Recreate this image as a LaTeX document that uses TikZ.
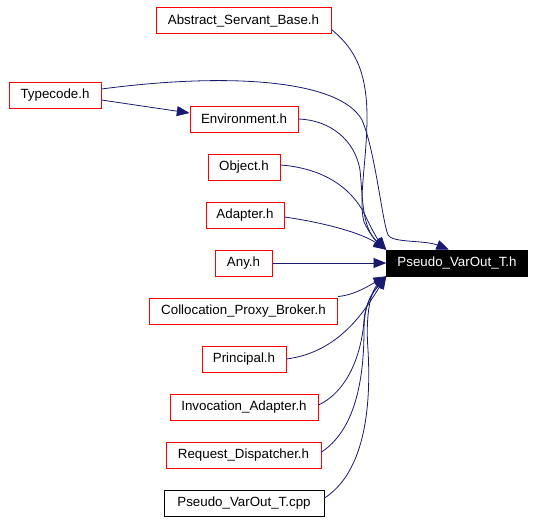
\documentclass[tikz,border=0pt]{standalone}
\usepackage{fontspec}
\setmainfont{Liberation Sans}
\usetikzlibrary{arrows.meta,calc}
\definecolor{edgeblue}{RGB}{25,25,112}
\begin{document}
\begin{tikzpicture}[x=0.75pt,y=-0.75pt,
  every node/.style={font=\fontsize{10pt}{12pt}\selectfont},
  filebox/.style={draw=red,line width=0.75pt,minimum height=19.5pt,inner sep=0pt,anchor=center},
  plainbox/.style={draw=black,line width=0.75pt,minimum height=19.5pt,inner sep=0pt,anchor=center},
  mainbox/.style={fill=black,draw=black,text=white,minimum height=19.5pt,inner sep=0pt,anchor=center},
  dep/.style={draw=edgeblue,line width=0.6pt,-{Triangle[length=9.5pt,width=7.5pt]}}]
\useasboundingbox (0,0) rectangle (538,522);
\node[filebox,minimum width=131.25pt] (asb) at (243.5,20.5) {Abstract\_Servant\_Base.h};
\node[filebox,minimum width=69pt] (tc) at (55,95) {Typecode.h};
\node[filebox,minimum width=81pt] (env) at (244,119) {Environment.h};
\node[filebox,minimum width=54pt] (obj) at (244,167) {Object.h};
\node[filebox,minimum width=58.5pt] (adp) at (245,215) {Adapter.h};
\node[filebox,minimum width=42.75pt] (any) at (243.5,263) {Any.h};
\node[mainbox,minimum width=105.75pt] (t) at (457,263) {Pseudo\_VarOut\_T.h};
\node[filebox,minimum width=141pt] (cpb) at (243.5,311) {Collocation\_Proxy\_Broker.h};
\node[filebox,minimum width=63pt] (pr) at (244,359) {Principal.h};
\node[filebox,minimum width=111pt] (inv) at (244,407) {Invocation\_Adapter.h};
\node[filebox,minimum width=116.25pt] (req) at (243.5,455) {Request\_Dispatcher.h};
\node[plainbox,minimum width=120pt] (cpp) at (244,503) {Pseudo\_VarOut\_T.cpp};
% edges
\draw[dep] ($(tc.east)+(0,5)$) -- ($(env.west)+(0,-6)$);
\draw[dep] ($(tc.east)+(0,-6)$) .. controls (230,72) and (340,80) .. (362,120)
  .. controls (375,150) and (382,220) .. (388,235)
  .. controls (392,243) and (425,240) .. ($(t.north)+(-8,0)$);
\draw[dep] ($(asb.east)+(0,9)$) .. controls (350,45) and (367,65) .. (367,117)
  .. controls (367,160) and (358,200) .. (364,222)
  .. controls (370,235) and (378,243) .. (t.north west);
\draw[dep] (env.east) .. controls (330,120) and (355,140) .. (360,170)
  .. controls (363,200) and (362,228) .. (t.north west);
\draw[dep] ($(obj.east)+(0,-2)$) .. controls (320,168) and (350,185) .. (365,215)
  .. controls (372,230) and (378,240) .. (t.north west);
\draw[dep] ($(adp.east)+(0,2)$) .. controls (320,222) and (360,232) .. (t.north west);
\draw[dep] (any.east) -- (t.west);
\draw[dep] ($(cpb.north east)+(0,-1)$) .. controls (355,295) and (370,285) .. (t.south west);
\draw[dep] (pr.east) .. controls (340,352) and (365,310) .. (t.south west);
\draw[dep] ($(inv.east)+(0,-2)$) .. controls (350,390) and (362,350) .. (364,320)
  .. controls (366,300) and (375,290) .. (t.south west);
\draw[dep] ($(req.east)+(0,-3)$) .. controls (355,430) and (364,380) .. (364,330)
  .. controls (364,300) and (375,290) .. (t.south west);
\draw[dep] ($(cpp.east)+(0,-5)$) .. controls (360,475) and (372,420) .. (368,350)
  .. controls (365,310) and (372,290) .. (t.south west);
\end{tikzpicture}
\end{document}
